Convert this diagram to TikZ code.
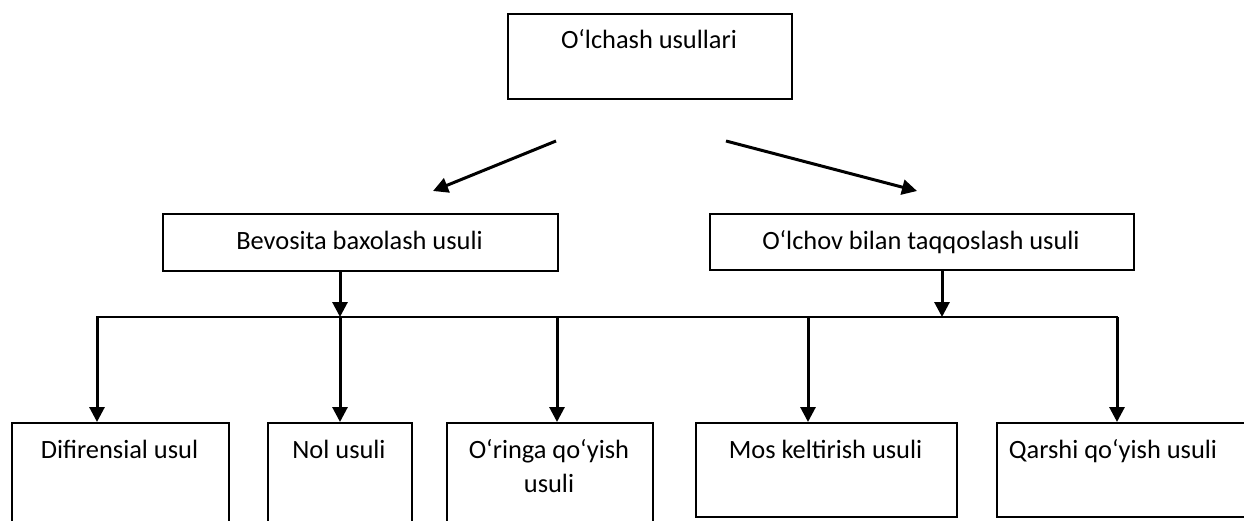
\documentclass[tikz,border=0pt]{standalone}
\usepackage{fontspec}
\setmainfont{Carlito}
\usetikzlibrary{arrows.meta,calc}
\begin{document}
\begin{tikzpicture}[x=1pt,y=-1pt,
  frame/.style={draw, line width=2.3pt, inner sep=0pt, anchor=north west},
  lbl/.style={font=\fontsize{26.4}{34}\selectfont, anchor=base, inner sep=0pt, align=center},
  arr/.style={line width=3pt, -{Triangle[length=15pt,width=15pt]}},
  bus/.style={line width=2.4pt, line cap=rect},
]
\path[use as bounding box] (0,0) rectangle (1244,521);
\clip (0,0) rectangle (1244,521);

% root
\node[frame, minimum width=284pt, minimum height=85pt] (top) at (507,13) {};
\node[lbl] (top-t) at (649,48.5) {O‘lchash usullari};

% two groups of methods
\node[frame, minimum width=395pt, minimum height=57pt] (bev) at (162,213) {};
\node[lbl] (bev-t) at (359.5,250) {Bevosita baxolash usuli};
\node[frame, minimum width=424pt, minimum height=56pt] (olch) at (709,213) {};
\node[lbl] (olch-t) at (921,250) {O‘lchov bilan taqqoslash usuli};

% individual methods
\node[frame, minimum width=217pt, minimum height=110pt] (dif) at (11,422) {};
\node[lbl] (dif-t) at (119.5,458) {Difirensial usul};
\node[frame, minimum width=144pt, minimum height=110pt] (nol) at (267,422) {};
\node[lbl] (nol-t) at (339,458) {Nol usuli};
\node[frame, minimum width=206pt, minimum height=110pt] (orin) at (446,422) {};
\node[lbl] (orin-t) at (549,492) {O‘ringa qo‘yish\\usuli};
\node[frame, minimum width=261pt, minimum height=94pt] (mos) at (695,422) {};
\node[lbl] (mos-t) at (825.5,458) {Mos keltirish usuli};
\node[frame, minimum width=260pt, minimum height=94pt] (qar) at (996,422) {};
\node[lbl] (qar-t) at (1113,458) {Qarshi qo‘yish usuli};

% free-standing arrows under the root
\coordinate (a1s) at (556,141);
\coordinate (a1e) at (433,191);
\coordinate (a2s) at (726,141);
\coordinate (a2e) at (917,191);
\draw[arr] (a1s) -- (a1e);
\draw[arr] (a2s) -- (a2e);

% common bus
\coordinate (j1) at (97,317);
\coordinate (j2) at (340,317);
\coordinate (j3) at (557,317);
\coordinate (j4) at (808,317);
\coordinate (j5) at (1117,317);
\coordinate (jr) at (942,317);
\draw[bus] (j1) -- (j5);

\draw[arr] (bev.south -| j2) -- (j2);
\draw[arr] (olch.south -| jr) -- (jr);

\draw[arr] (j1) -- (j1 |- dif.north);
\draw[arr] (j2) -- (j2 |- nol.north);
\draw[arr] (j3) -- (j3 |- orin.north);
\draw[arr] (j4) -- (j4 |- mos.north);
\draw[arr] (j5) -- (j5 |- qar.north);
\end{tikzpicture}
\end{document}
